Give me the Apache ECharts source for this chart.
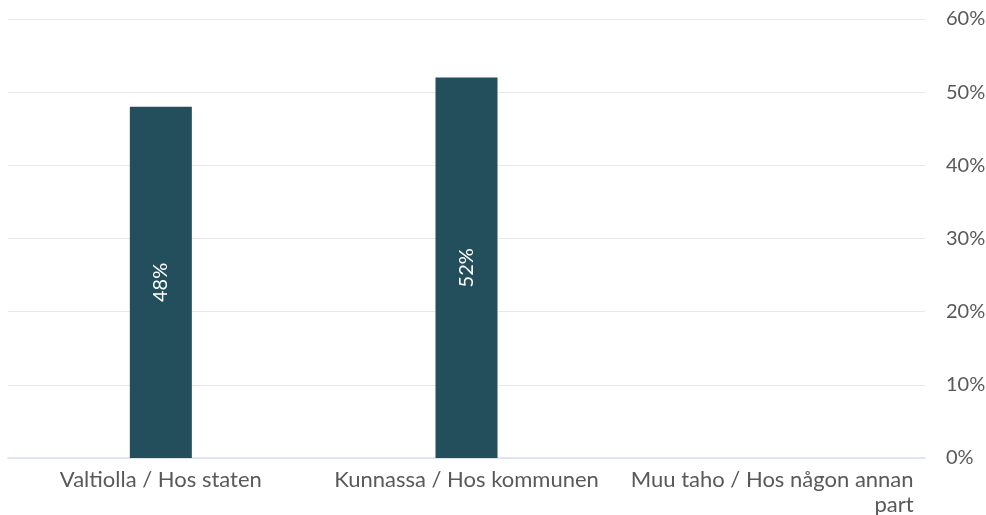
<!DOCTYPE html>
<html>
<head>
<meta charset="utf-8">
<script src="https://cdn.jsdelivr.net/npm/echarts@6/dist/echarts.min.js"></script>
<style>
	html, body { margin: 0; padding: 0; background: #fff; }
	#chart { width: 986px; height: 515px; }
</style>
</head>
<body>
<div id="chart"></div>
<script>
var categories = ['Valtiolla / Hos staten', 'Kunnassa / Hos kommunen', 'Muu taho / Hos någon annan part'];
var values = [48, 52, null];
var yTicks = [0, 10, 20, 30, 40, 50, 60];

var myChart = echarts.init(document.getElementById('chart'));
var option = {
	animation: false,
	textStyle: { fontFamily: 'Lato' },
	grid: { left: 8, right: 61, top: 19, bottom: 57, containLabel: false, outerBoundsMode: 'none' },
	xAxis: {
		type: 'category',
		data: categories,
		axisTick: { show: false },
		axisLine: { lineStyle: { color: '#d9dff0', width: 1.5 } },
		axisLabel: {
			interval: 0,
			color: '#595959',
			fontSize: 22,
			margin: 9,
			lineHeight: 25,
			formatter: function (val) {
				// viimeinen nimi rivitetään kahdelle riville
				if (val.indexOf('annan part') > -1) {
					return '{a|Muu taho / Hos någon annan}\n{r|part}';
				}
				return val;
			},
			rich: {
				a: { fontSize: 22, color: '#595959', lineHeight: 25 },
				r: { fontSize: 22, color: '#595959', lineHeight: 25, align: 'right' }
			}
		}
	},
	yAxis: {
		type: 'value',
		position: 'right',
		min: yTicks[0],
		max: yTicks[yTicks.length - 1],
		interval: 10,
		axisLine: { show: false },
		axisTick: { show: false },
		splitLine: { lineStyle: { color: '#e8e8e8' } },
		axisLabel: {
			color: '#595959',
			fontSize: 20,
			margin: 21,
			formatter: '{value}%'
		}
	},
	series: [{
		type: 'bar',
		data: values,
		barWidth: 62,
		itemStyle: { color: '#234e5b' },
		label: {
			show: true,
			position: 'inside',
			rotate: 90,
			color: '#ffffff',
			fontSize: 20,
			formatter: function (p) { return p.value + '%'; }
		}
	}]
};
myChart.setOption(option);
</script>
</body>
</html>
